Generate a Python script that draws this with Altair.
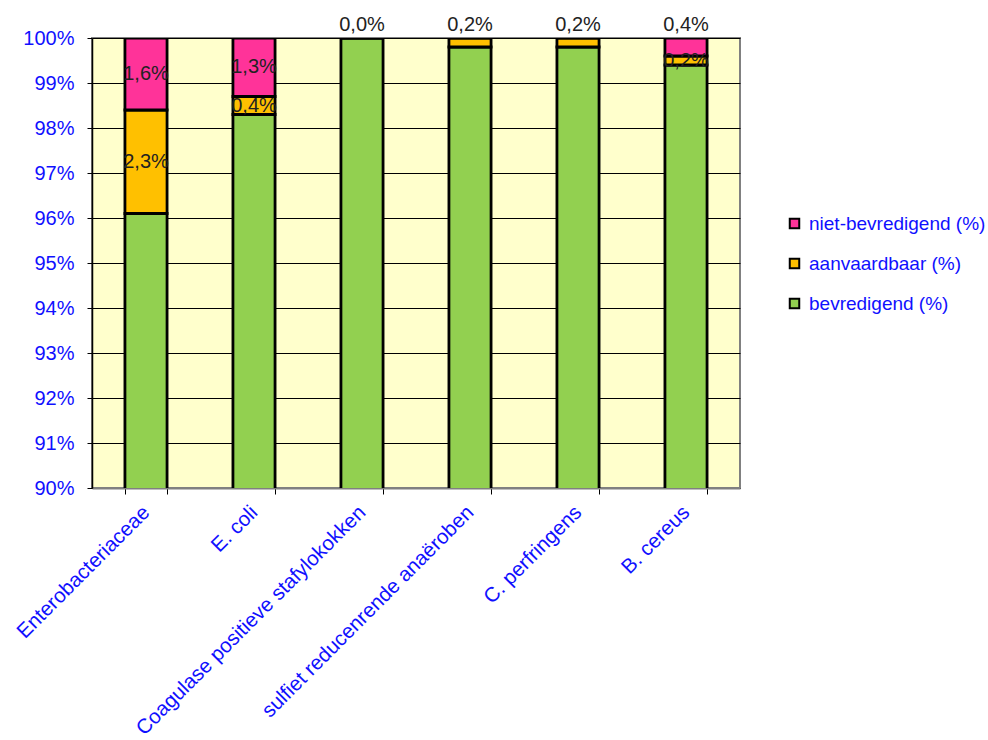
import altair as alt
import pandas as pd

# Product categories and the share of samples per result class (%)
categories = [
    "Enterobacteriaceae",
    "E. coli",
    "Coagulase positieve stafylokokken",
    "sulfiet reducenrende anaëroben",
    "C. perfringens",
    "B. cereus",
]
bevredigend = [96.1, 98.3, 100.0, 99.8, 99.8, 99.4]
aanvaardbaar = [2.3, 0.4, 0.0, 0.2, 0.2, 0.2]
niet_bevredigend = [1.6, 1.3, 0.0, 0.0, 0.0, 0.4]

series_names = ["niet-bevredigend (%)", "aanvaardbaar (%)", "bevredigend (%)"]
series_colors = ["#FF3399", "#FFC000", "#92D050"]

# Which segments carry a data label, per category
labelled = [
    ["aanvaardbaar (%)", "niet-bevredigend (%)"],
    ["aanvaardbaar (%)", "niet-bevredigend (%)"],
    ["niet-bevredigend (%)"],
    ["aanvaardbaar (%)"],
    ["aanvaardbaar (%)"],
    ["aanvaardbaar (%)", "niet-bevredigend (%)"],
]

rows = []
labels = []
for i, cat in enumerate(categories):
    base = 0.0
    stack = [
        ("bevredigend (%)", bevredigend[i]),
        ("aanvaardbaar (%)", aanvaardbaar[i]),
        ("niet-bevredigend (%)", niet_bevredigend[i]),
    ]
    for name, val in stack:
        rows.append({"cat": cat, "serie": name, "y0": base, "y1": base + val})
        if name in labelled[i]:
            mid = base + val / 2
            # labels of thin segments at the top sit just above the bar
            ypos = 100.28 if mid >= 99.75 else mid
            labels.append({"cat": cat, "txt": f"{val:.1f}%".replace(".", ","), "ypos": ypos})
        base += val

df = pd.DataFrame(rows)
ldf = pd.DataFrame(labels)

FONT = "Liberation Sans"
BLUE = "#1010FF"

x_enc = alt.X(
    "cat:N",
    sort=categories,
    title=None,
    scale=alt.Scale(paddingInner=0.61, paddingOuter=0.305),
    axis=alt.Axis(
        labelAngle=-45,
        labelAlign="right",
        labelBaseline="middle",
        labelPadding=15,
        labelFontSize=20.5,
        labelColor=BLUE,
        labelFont=FONT,
        labelLimit=500,
        tickBand="extent",
        tickColor="black",
        tickSize=6,
        domainColor="#808080",
        domainWidth=2,
    ),
)

bars = alt.Chart(df).mark_bar(
    clip=True, stroke="black", strokeWidth=2.8
).encode(
    x=x_enc,
    y=alt.Y(
        "y0:Q",
        title=None,
        scale=alt.Scale(domain=[90, 100], nice=False),
        axis=alt.Axis(
            values=list(range(90, 101)),
            labelExpr="datum.value + '%'",
            labelFontSize=20,
            labelColor=BLUE,
            labelFont=FONT,
            labelPadding=13,
            tickColor="black",
            tickSize=5,
            domainColor="black",
            domainWidth=1.5,
            grid=True,
            gridColor="black",
            gridWidth=1,
        ),
    ),
    y2="y1:Q",
    color=alt.Color(
        "serie:N",
        scale=alt.Scale(domain=series_names, range=series_colors),
        legend=alt.Legend(
            title=None,
            orient="none",
            legendX=693,
            legendY=176,
            symbolType="square",
            symbolSize=90,
            symbolStrokeColor="black",
            symbolStrokeWidth=2,
            labelFontSize=19,
            labelColor=BLUE,
            labelFont=FONT,
            rowPadding=20,
            labelOffset=5,
            labelLimit=300,
        ),
    ),
)

texts = alt.Chart(ldf).mark_text(
    fontSize=20, font=FONT, color="#222222", baseline="middle"
).encode(
    x=alt.X("cat:N", sort=categories),
    y=alt.Y("ypos:Q"),
    text="txt:N",
)

chart = (
    alt.layer(bars, texts)
    .properties(
        width=648,
        height=450,
        autosize=alt.AutoSizeParams(type="none"),
        padding={"left": 92, "top": 38, "right": 248, "bottom": 252},
        background="white",
    )
    .configure_view(fill="#FFFFCC", stroke="#808080", strokeWidth=2)
)

chart.save("out.html", embed_options={"renderer": "svg", "actions": False})
